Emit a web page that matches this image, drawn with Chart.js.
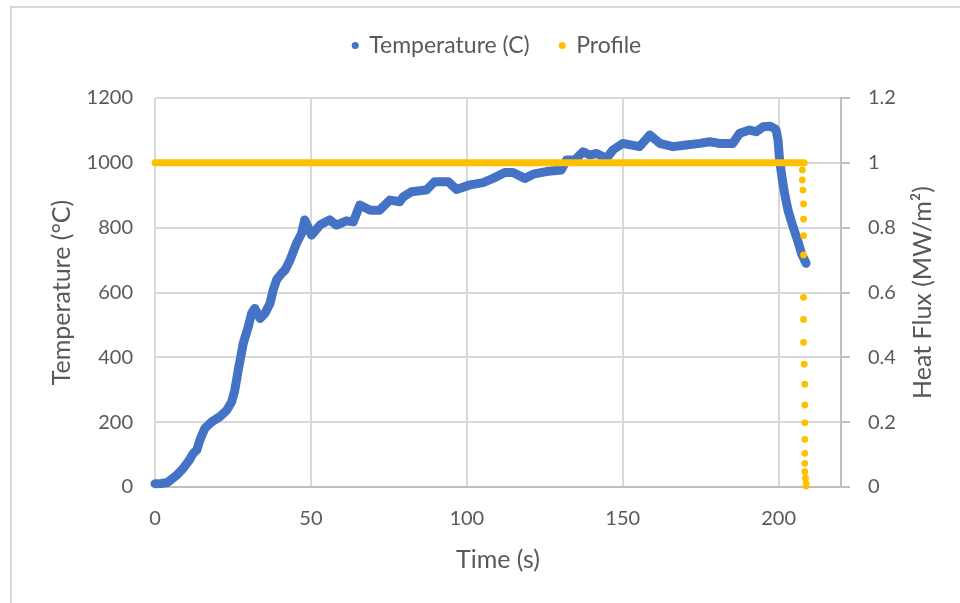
<!DOCTYPE html>
<html>
<head>
<meta charset="utf-8">
<script src="https://cdn.jsdelivr.net/npm/chart.js@4.4.0/dist/chart.umd.min.js"></script>
<style>
    html, body { margin: 0; padding: 0; background: #fff; }
    #ramka {
        position: absolute; left: 10px; top: 6px; right: 0; bottom: 0;
        border-left: 2px solid #d9d9d9; border-top: 2px solid #d9d9d9;
    }
    #pole { position: absolute; left: 0; top: 0; width: 960px; height: 603px; }
</style>
</head>
<body>
<div id="ramka"></div>
<div id="pole"><canvas id="wykres" width="960" height="603"></canvas></div>
<script>
// pomiar temperatury (s, °C)
const CZAS_T = [0, 2, 4, 7, 9.1, 11, 12.3, 13.4, 14.4, 16, 18.2, 20.8, 23, 24.6, 25.6, 26.7, 28.3, 29.9, 31, 32,
    33.7, 35.3, 36.9, 37.9, 39, 40.6, 41.7, 43.3, 45.4, 47, 48, 50.2, 52.9, 56, 58.2, 61.4, 63.6, 65.7, 69, 72,
    75.3, 78.5, 79.6, 82.3, 87, 89.7, 94, 96.7, 101, 105.2, 108.4, 112.2, 114.8, 118.6, 121.3, 125.5, 130.3, 132,
    134.6, 137.3, 139.4, 141.6, 144.8, 146.9, 150, 155.4, 158.7, 161.9, 166.1, 170.4, 174.7, 177.9, 181, 185.3,
    187.5, 190.7, 192.8, 195, 197.1, 198.7, 199.2, 199.8, 200.3, 201.2, 201.9, 203, 204.6, 206.2, 207.3, 208.8];
const TEMPERATURA = [10, 11, 14, 37, 58, 83, 104, 114, 145, 181, 201, 217, 237, 263, 299, 361, 443, 494, 536, 551,
    520, 536, 567, 608, 639, 659, 669, 700, 752, 782, 824, 777, 808, 824, 808, 821, 818, 870, 854, 854,
    885, 880, 895, 911, 916, 942, 942, 918, 932, 939, 952, 970, 970, 952, 965, 973, 978, 1009,
    1009, 1034, 1024, 1029, 1014, 1040, 1060, 1050, 1086, 1060, 1050, 1055, 1060, 1065, 1060, 1060,
    1091, 1101, 1096, 1111, 1113, 1106, 1101, 1070, 1009, 947, 906, 854, 803, 757, 721, 690];

// profil strumienia ciepła (s, MW/m2)
const CZAS_P = [0, 208.2, 207.6, 207.6, 207.8, 208, 208, 208, 208, 208, 208, 208, 208.2, 208.4, 208.4, 208.4,
    208.4, 208.4, 208.4, 208.4, 208.6, 208.8, 208.8];
const STRUMIEN = [1, 1, 0.978, 0.947, 0.916, 0.873, 0.826, 0.775, 0.716, 0.585, 0.517, 0.446, 0.379, 0.317, 0.253,
    0.198, 0.147, 0.104, 0.073, 0.047, 0.027, 0.011, 0.003];

const OS_X = { min: 0, max: 220, krok: 50 };
const OS_T = { min: 0, max: 1200, krok: 200 };
const OS_Q = { min: 0, max: 1.2, krok: 0.2 };

const NIEBIESKI = '#4472c4';
const ZOLTY = '#ffc000';
const SZARY = '#595959';
const SIATKA = '#d9d9d9';
const LINIA_OSI = '#bfbfbf';
const FONT = 'Lato';

const punkty = (xs, ys) => xs.map((x, i) => ({ x, y: ys[i] }));
const bezSeparatora = v => String(Math.round(v * 10) / 10);

// tytuł prawej osi czytany od dołu do góry, jak lewy
const tytulPrawy = {
    id: 'tytulPrawy',
    afterDraw(chart) {
        const os = chart.scales.y2;
        const obszar = chart.chartArea;
        const ctx = chart.ctx;
        ctx.save();
        ctx.font = `25px ${FONT}`;
        ctx.fillStyle = SZARY;
        ctx.textAlign = 'center';
        ctx.textBaseline = 'middle';
        ctx.translate(os.right - 37, (obszar.top + obszar.bottom) / 2);
        ctx.rotate(-Math.PI / 2);
        ctx.fillText('Heat Flux (MW/m²)', 0, 0);
        ctx.restore();
    }
};

const ctx = document.getElementById('wykres').getContext('2d');
new Chart(ctx, {
    type: 'scatter',
    data: {
        datasets: [
            {
                label: 'Temperature (C)',
                data: punkty(CZAS_T, TEMPERATURA),
                yAxisID: 'y',
                order: 2,
                showLine: true,
                borderColor: NIEBIESKI,
                backgroundColor: NIEBIESKI,
                borderWidth: 9,
                borderJoinStyle: 'round',
                borderCapStyle: 'round',
                pointRadius: 0,
                pointBorderWidth: 0,
                clip: 10
            },
            {
                label: 'Profile',
                data: punkty(CZAS_P, STRUMIEN),
                yAxisID: 'y2',
                order: 1,
                showLine: true,
                borderColor: ZOLTY,
                backgroundColor: ZOLTY,
                borderWidth: 7,
                borderCapStyle: 'round',
                segment: {
                    borderColor: c => c.p0DataIndex === 0 ? ZOLTY : 'transparent'
                },
                pointRadius: c => c.dataIndex < 2 ? 0 : 3.4,
                pointBorderWidth: 0,
                clip: 10
            }
        ]
    },
    options: {
        responsive: false,
        animation: false,
        layout: { padding: { top: 4, left: 34 } },
        plugins: {
            tooltip: { enabled: false },
            legend: {
                position: 'top',
                weight: 3000,
                labels: {
                    usePointStyle: true,
                    boxWidth: 5,
                    boxHeight: 5,
                    padding: 30,
                    color: SZARY,
                    font: { family: FONT, size: 23 },
                    sort: (a, b) => a.datasetIndex - b.datasetIndex
                }
            },
            // pusty odstęp między legendą a wykresem
            subtitle: {
                display: true,
                text: '',
                font: { size: 10 },
                padding: { top: 0, bottom: 19 }
            }
        },
        scales: {
            x: {
                type: 'linear',
                min: OS_X.min, max: OS_X.max,
                afterFit: s => { s.height = 116; },
                ticks: {
                    stepSize: OS_X.krok,
                    includeBounds: false,
                    padding: 20,
                    color: SZARY,
                    font: { family: FONT, size: 20 },
                    callback: bezSeparatora
                },
                grid: { color: SIATKA, lineWidth: 2, drawTicks: false },
                border: { display: true, color: LINIA_OSI, width: 2 },
                title: {
                    display: true,
                    text: 'Time (s)',
                    color: SZARY,
                    font: { family: FONT, size: 25 },
                    padding: { top: 0, bottom: 28 }
                }
            },
            y: {
                position: 'left',
                min: OS_T.min, max: OS_T.max,
                afterFit: s => { s.width = 121; },
                ticks: {
                    stepSize: OS_T.krok,
                    padding: 22,
                    color: SZARY,
                    font: { family: FONT, size: 20 },
                    callback: bezSeparatora
                },
                grid: { color: SIATKA, lineWidth: 2, drawTicks: false },
                border: { display: false },
                title: {
                    display: true,
                    text: 'Temperature (°C)',
                    color: SZARY,
                    font: { family: FONT, size: 25 },
                    padding: { top: 13, bottom: 0 }
                }
            },
            y2: {
                position: 'right',
                min: OS_Q.min, max: OS_Q.max,
                afterFit: s => { s.width = 119; },
                ticks: {
                    stepSize: OS_Q.krok,
                    padding: 18,
                    color: SZARY,
                    font: { family: FONT, size: 20 },
                    callback: bezSeparatora
                },
                grid: {
                    drawOnChartArea: false,
                    drawTicks: true,
                    tickLength: 9,
                    color: LINIA_OSI,
                    lineWidth: 2
                },
                border: { display: true, color: LINIA_OSI, width: 2 }
            }
        }
    },
    plugins: [tytulPrawy]
});
</script>
</body>
</html>
